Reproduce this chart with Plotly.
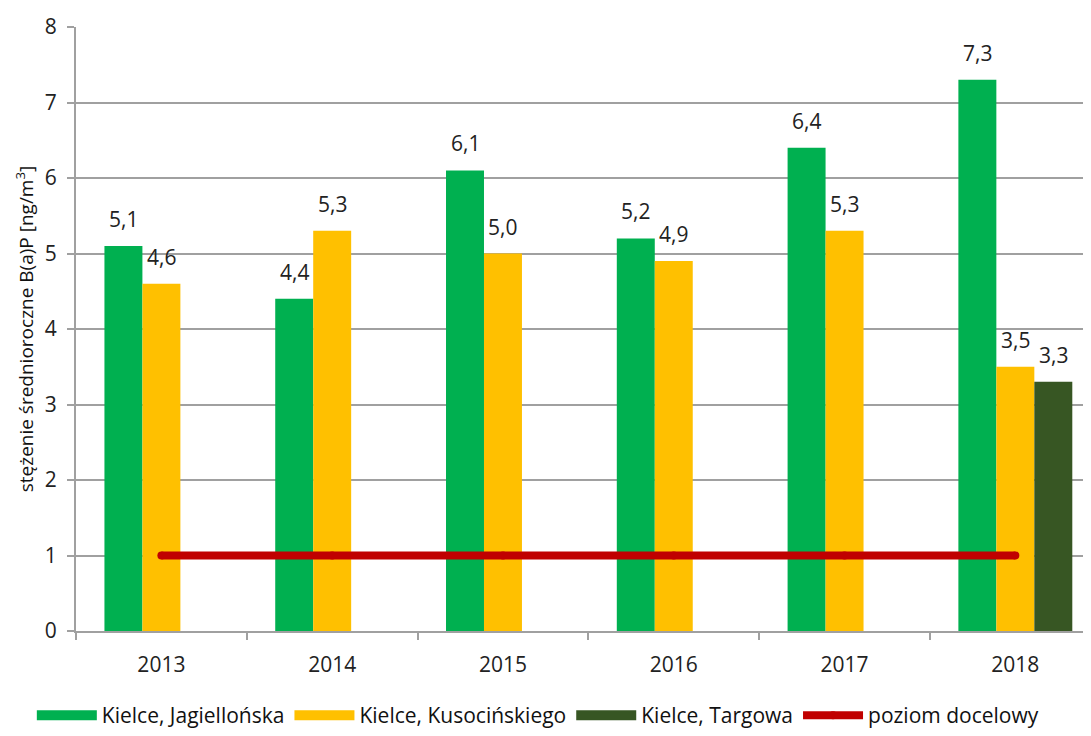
import plotly.graph_objects as go

years = ["2013", "2014", "2015", "2016", "2017", "2018"]
jagiellonska = [5.1, 4.4, 6.1, 5.2, 6.4, 7.3]
kusocinskiego = [4.6, 5.3, 5.0, 4.9, 5.3, 3.5]
targowa = [None, None, None, None, None, 3.3]
poziom = [1, 1, 1, 1, 1, 1]

names = ["Kielce, Jagiellońska", "Kielce, Kusocińskiego", "Kielce, Targowa", "poziom docelowy"]
colors = ["#00B050", "#FFC000", "#375623", "#C00000"]

FONT = "Open Sans, Noto Sans, sans-serif"
BARGAP = 0.333

fig = go.Figure()
series = [jagiellonska, kusocinskiego, targowa]
for name, vals, col in zip(names[:3], series, colors[:3]):
    fig.add_trace(go.Bar(x=years, y=vals, name=name, legendgroup=name, showlegend=False,
                         marker=dict(color=col, line=dict(width=0))))
    # wide rectangular legend swatch
    fig.add_trace(go.Scatter(x=[None], y=[None], name=name, legendgroup=name, mode="lines",
                             line=dict(color=col, width=14)))

fig.add_trace(go.Scatter(x=years, y=poziom, name=names[3], mode="lines+markers",
                         line=dict(color=colors[3], width=8),
                         marker=dict(color=colors[3], size=8)))

# data labels
bw = (1 - BARGAP) / 3
for i, vals in enumerate(series):
    for j, v in enumerate(vals):
        if v is None:
            continue
        fig.add_annotation(x=j + (i - 1) * bw, y=v, xref="x", yref="y",
                           text=f"{v:.1f}".replace(".", ","), showarrow=False,
                           yshift=27, font=dict(family=FONT, size=21, color="#222222"))

grid = "#A0A0A0"
fig.update_layout(
    width=1083, height=728,
    margin=dict(l=68, r=0, t=19, b=105),
    paper_bgcolor="white", plot_bgcolor="white",
    barmode="group", bargap=BARGAP, bargroupgap=0,
    font=dict(family=FONT, size=18, color="#222222"),
    showlegend=True,
    legend=dict(orientation="h", xref="container", yref="container", x=0.022, xanchor="left",
                y=-0.008, yanchor="bottom", font=dict(family=FONT, size=21, color="#111111"),
                itemwidth=60, traceorder="normal", tracegroupgap=0),
    xaxis=dict(type="category", range=[-0.5, 5.443], showgrid=False, automargin=False,
               showline=True, linecolor=grid, linewidth=2,
               ticks="outside", tickson="boundaries", ticklen=7, tickcolor=grid, tickwidth=2,
               tickfont=dict(family=FONT, size=21, color="#222222"), ticklabelstandoff=14),
    yaxis=dict(range=[0, 8], dtick=1, showgrid=True, gridcolor=grid, gridwidth=2,
               automargin=False,
               showline=True, linecolor=grid, linewidth=2, zeroline=False,
               ticks="outside", ticklen=7, tickcolor=grid, tickwidth=2,
               tickfont=dict(family=FONT, size=21, color="#222222"), ticklabelstandoff=6,
               title=dict(text="stężenie średnioroczne B(a)P [ng/m<sup>3</sup>]",
                          font=dict(family=FONT, size=19, color="#111111"), standoff=6)),
)

fig.write_html("out.html")
